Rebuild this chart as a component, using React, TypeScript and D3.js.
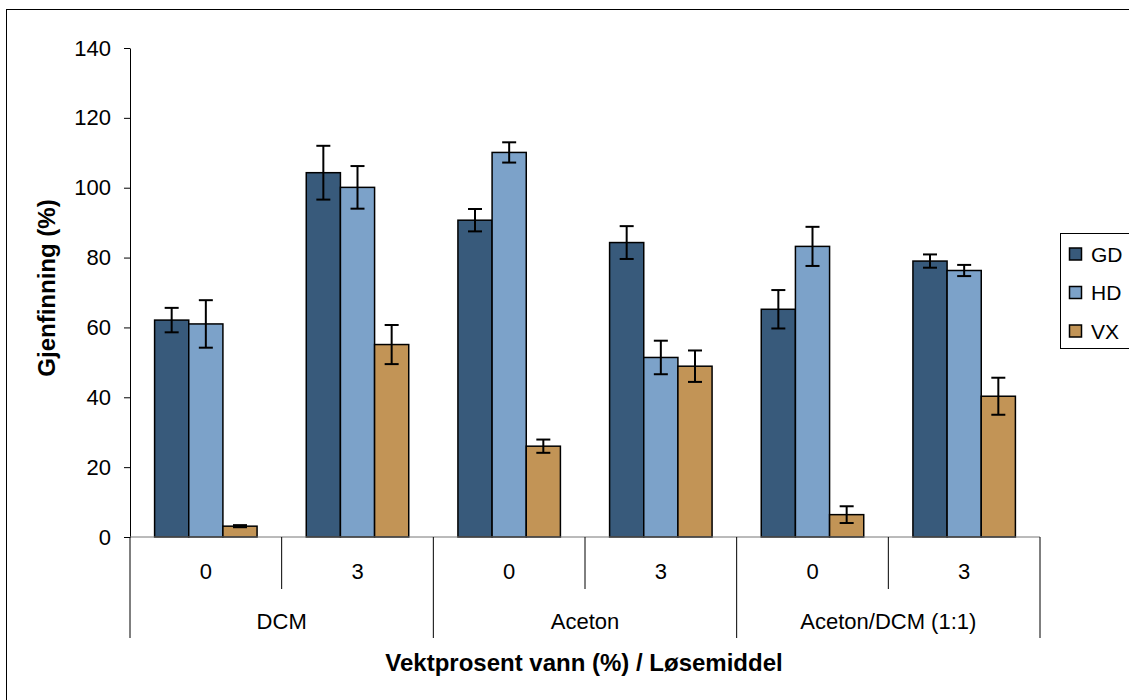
import React, { useEffect, useRef } from 'react';
import * as d3 from 'd3';

const solvents = ['DCM', 'Aceton', 'Aceton/DCM (1:1)'];
const waterPct = ['0', '3'];
const seriesNames = ['GD', 'HD', 'VX'];
const seriesColors = ['#385a7b', '#7ca2c9', '#c29456'];

// one value per (solvent, water) category, in order DCM0, DCM3, Ac0, Ac3, AcDCM0, AcDCM3
const gdValues = [62.1, 104.3, 90.7, 84.3, 65.2, 79.0];
const hdValues = [61.0, 100.1, 110.1, 51.4, 83.2, 76.3];
const vxValues = [3.1, 55.1, 26.0, 48.9, 6.4, 40.3];
const gdErrors = [3.5, 7.7, 3.2, 4.7, 5.5, 1.9];
const hdErrors = [6.8, 6.1, 2.9, 4.8, 5.6, 1.6];
const vxErrors = [0.3, 5.6, 1.9, 4.5, 2.4, 5.3];
const yTicks = [0, 20, 40, 60, 80, 100, 120, 140];

const Chart = ({ width = 1129, height = 700 }) => {
  const ref = useRef<SVGSVGElement>(null);

  useEffect(() => {
    const margin = { left: 130, top: 48, right: 89, bottom: 163 };
    const innerWidth = width - margin.left - margin.right;
    const innerHeight = height - margin.top - margin.bottom;
    const font = 'Liberation Sans, Arial, sans-serif';
    const fs = 22;

    const svg = d3.select(ref.current);
    svg.selectAll('*').remove();

    // outer chart-area frame
    svg.append('rect')
      .attr('x', 6.5).attr('y', 9.5)
      .attr('width', 1200).attr('height', 800)
      .attr('fill', 'white').attr('stroke', '#000').attr('stroke-width', 1);

    const g = svg.append('g').attr('transform', `translate(${margin.left},${margin.top})`);

    const cats = solvents.flatMap(s => waterPct.map(w => `${s}|${w}`));
    const x0 = d3.scaleBand().domain(cats).range([0, innerWidth]).paddingInner(0).paddingOuter(0);
    const x1 = d3.scaleBand().domain(seriesNames).range([0, x0.bandwidth()]).paddingInner(0).paddingOuter(0.72);
    const y = d3.scaleLinear().domain([0, 140]).range([innerHeight, 0]);

    const values = [gdValues, hdValues, vxValues];
    const errors = [gdErrors, hdErrors, vxErrors];

    // y axis
    const yAxis = g.append('g')
      .call(d3.axisLeft(y).tickValues(yTicks).tickSize(6).tickPadding(13).tickSizeOuter(0));
    yAxis.select('.domain').attr('stroke', '#000');
    yAxis.selectAll('line').attr('stroke', '#000');
    yAxis.selectAll('text').attr('font-family', font).attr('font-size', fs).attr('fill', '#000');

    // bars
    seriesNames.forEach((name, si) => {
      const bars = g.append('g');
      cats.forEach((c, ci) => {
        const bx = x0(c)! + x1(name)!;
        const v = values[si][ci];
        bars.append('rect')
          .attr('x', bx).attr('y', y(v))
          .attr('width', x1.bandwidth()).attr('height', y(0) - y(v))
          .attr('fill', seriesColors[si]).attr('stroke', '#000').attr('stroke-width', 1.5);
      });
    });

    // error bars
    seriesNames.forEach((name, si) => {
      cats.forEach((c, ci) => {
        const cx = x0(c)! + x1(name)! + x1.bandwidth() / 2;
        const v = values[si][ci];
        const e = errors[si][ci];
        const eg = g.append('g').attr('stroke', '#000').attr('stroke-width', 2);
        eg.append('line').attr('x1', cx).attr('x2', cx).attr('y1', y(v + e)).attr('y2', y(v - e));
        eg.append('line').attr('x1', cx - 7).attr('x2', cx + 7).attr('y1', y(v + e)).attr('y2', y(v + e));
        eg.append('line').attr('x1', cx - 7).attr('x2', cx + 7).attr('y1', y(v - e)).attr('y2', y(v - e));
      });
    });

    // x axis line
    g.append('line')
      .attr('x1', 0).attr('x2', innerWidth)
      .attr('y1', innerHeight).attr('y2', innerHeight)
      .attr('stroke', '#777').attr('stroke-width', 1);

    // category separators: inner (between 0 and 3) short, outer (between solvents) long
    cats.forEach((c, ci) => {
      const xLeft = x0(c)!;
      const isOuter = ci % 2 === 0;
      g.append('line')
        .attr('x1', xLeft).attr('x2', xLeft)
        .attr('y1', innerHeight).attr('y2', innerHeight + (isOuter ? 101 : 52))
        .attr('stroke', '#000');
      g.append('text')
        .attr('x', xLeft + x0.bandwidth() / 2).attr('y', innerHeight + 42)
        .attr('text-anchor', 'middle').attr('font-family', font).attr('font-size', fs)
        .text(c.split('|')[1]);
    });
    g.append('line')
      .attr('x1', innerWidth).attr('x2', innerWidth)
      .attr('y1', innerHeight).attr('y2', innerHeight + 101)
      .attr('stroke', '#000');

    solvents.forEach(s => {
      const xs = x0(`${s}|0`)!;
      g.append('text')
        .attr('x', xs + x0.bandwidth()).attr('y', innerHeight + 92)
        .attr('text-anchor', 'middle').attr('font-family', font).attr('font-size', fs)
        .text(s);
    });

    // axis titles
    svg.append('text')
      .attr('transform', `translate(55,288) rotate(-90)`)
      .attr('text-anchor', 'middle').attr('font-family', font).attr('font-size', 24)
      .attr('font-weight', 'bold')
      .text('Gjenfinning (%)');
    svg.append('text')
      .attr('x', 584).attr('y', 671)
      .attr('text-anchor', 'middle').attr('font-family', font).attr('font-size', 24)
      .attr('font-weight', 'bold')
      .text('Vektprosent vann (%) / Løsemiddel');

    // legend
    const lg = svg.append('g').attr('transform', 'translate(1060,233)');
    lg.append('rect')
      .attr('x', 0.5).attr('y', 0.5).attr('width', 120).attr('height', 115)
      .attr('fill', 'white').attr('stroke', '#000');
    seriesNames.forEach((name, i) => {
      const cy = 21 + i * 38.5;
      lg.append('rect')
        .attr('x', 9.5).attr('y', cy - 6).attr('width', 12).attr('height', 12)
        .attr('fill', seriesColors[i]).attr('stroke', '#000').attr('stroke-width', 1.5);
      lg.append('text')
        .attr('x', 31).attr('y', cy + 7.5)
        .attr('font-family', font).attr('font-size', 21)
        .text(name);
    });
  }, [width, height]);

  return <svg ref={ref} width={width} height={height} style={{ position: 'absolute', left: 0, top: 0, background: 'white' }} />;
};

export default function App() {
  return <Chart />;
}
